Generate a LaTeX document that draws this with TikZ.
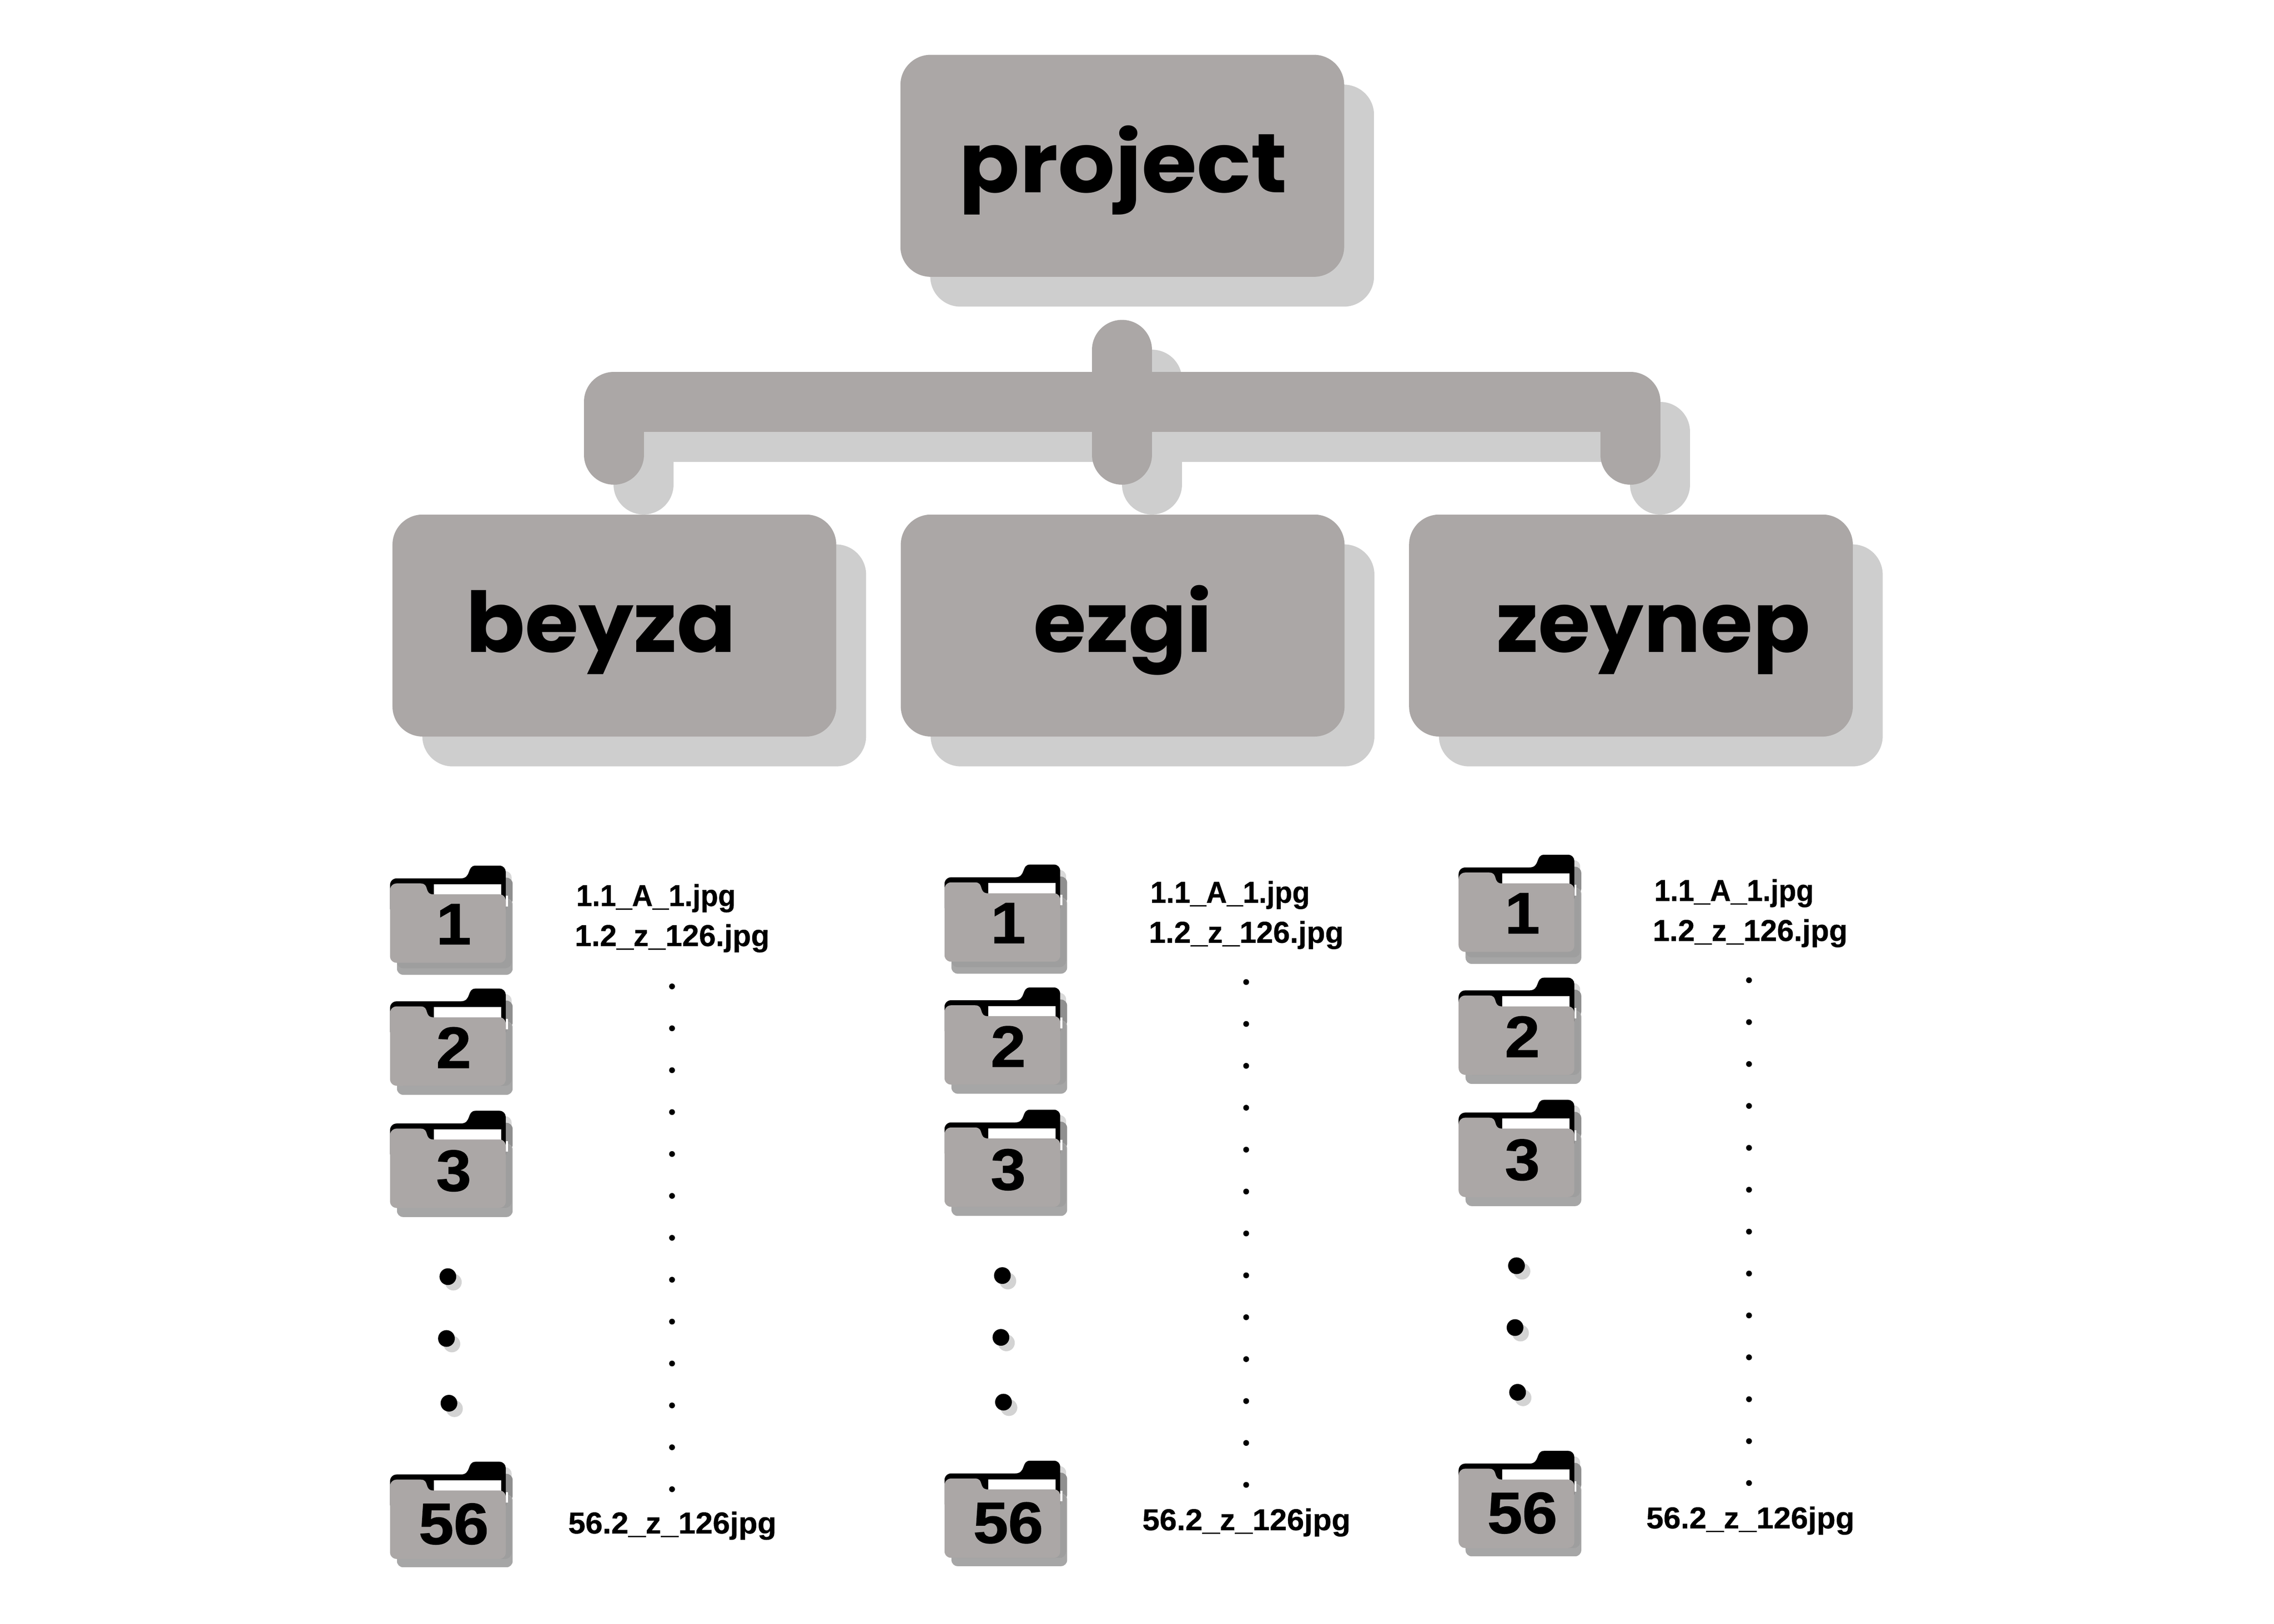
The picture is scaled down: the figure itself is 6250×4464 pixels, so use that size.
\documentclass[tikz,border=0pt]{standalone}
\usepackage{fontspec}
\setmainfont{Liberation Sans}[BoldFeatures = {FakeBold = 0.6}]
\newfontfamily\titlefont{Poppins}
\newfontfamily\digitfont{Liberation Sans}[BoldFeatures = {FakeStretch = 1.08, FakeBold = 1.2}]
\usetikzlibrary{shadows}
\definecolor{boxgrey}{HTML}{ABA7A6}
\definecolor{shadegrey}{HTML}{CECECE}
\tikzset{
	namebox/.style = {rectangle, fill = boxgrey, rounded corners = 0.83cm, minimum width = 12.19cm, minimum height = 6.10cm, inner sep = 0pt, anchor = north west,
		drop shadow = {shadow xshift = 0.82cm, shadow yshift = -0.82cm, fill = shadegrey, opacity = 1}},
	nametext/.style = {inner sep = 0pt, anchor = base, font = \titlefont\bfseries\fontsize{65.4pt}{70pt}\selectfont},
	filetext/.style = {inner sep = 0pt, anchor = base west, font = \bfseries\fontsize{23.6pt}{26pt}\selectfont},
	foldertext/.style = {inner sep = 0pt, anchor = base, font = \digitfont\bfseries\fontsize{45.5pt}{48pt}\selectfont},
	linkline/.style = {line width = 1.65cm, line cap = round, line join = round},
	bigdot/.style = {circle, fill = black, minimum size = 0.46cm, inner sep = 0pt,
		drop shadow = {shadow xshift = 0.15cm, shadow yshift = -0.15cm, fill = shadegrey!90, opacity = 1}},
	smalldot/.style = {circle, fill = black, minimum size = 0.16cm, inner sep = 0pt}
}
\newcommand{\drawfolder}[7]{
	\begin{scope}[shift = {(#1,#2)}]
		\fill [black!15, rounded corners = 0.17cm] (290,15) rectangle (334,110);
		\fill [black!44, rounded corners = 0.17cm] (290,33) rectangle (337,110);
		\fill [black!35, rounded corners = 0.17cm] (19,90) rectangle (337,#6);
		\fill [black!38, rounded corners = 0.17cm] (19,90) rectangle (334,#7);
		\fill [white] (318,83) rectangle (324,112);
		\fill [black] (0,120) -- (0,53) .. controls (0,43) and (8,35) .. (18,35) -- (194,35) .. controls (225,35) and (210,0) .. (235,0) -- (301,0) .. controls (311,0) and (318,8) .. (318,17) -- (318,120) -- cycle;
		\fill [white] (120,51) rectangle (305,85);
		\fill [boxgrey] (0,67) .. controls (0,57) and (8,49) .. (18,49) -- (84,49) .. controls (110,49) and (92,79) .. (120,79) -- (302,79) .. controls (311,79) and (318,87) .. (318,97) -- (318,249) .. controls (318,259) and (311,267) .. (300,267) -- (18,267) .. controls (8,267) and (0,259) .. (0,249) -- cycle;
		\node [foldertext] (#3) at (175,#5) {#4};
	\end{scope}
}

\begin{document}
\begin{tikzpicture}[x = 0.01cm, y = -0.01cm]
	\useasboundingbox (0,0) rectangle (6250,4464);

	\foreach \dx/\linkcolor in {82/shadegrey,0/boxgrey}{
		\coordinate (stubtop) at (3084+\dx,962+\dx);
		\coordinate (stubend) at (3084+\dx,1250+\dx);
		\coordinate (legleft) at (1687+\dx,1250+\dx);
		\coordinate (barleft) at (1687+\dx,1105+\dx);
		\coordinate (barright) at (4481+\dx,1105+\dx);
		\coordinate (legright) at (4481+\dx,1250+\dx);
		\draw [linkline, \linkcolor] (legleft) -- (barleft) -- (barright) -- (legright);
		\draw [linkline, \linkcolor] (stubtop) -- (stubend);
	}

	\node [namebox] (project) at (2474,150) {};
	\node [namebox] (beyza) at (1078,1414) {};
	\node [namebox] (ezgi) at (2475,1414) {};
	\node [namebox] (zeynep) at (3872,1414) {};
	\node [nametext] (projecttext) at (3087,529) {\scalebox{1.07}[1]{project}};
	\node [nametext] (beyzatext) at (1652,1793) {\scalebox{1.04}[1]{beyza}};
	\node [nametext] (ezgitext) at (3086,1793) {\scalebox{1.025}[1]{ezgi}};
	\node [nametext] (zeyneptext) at (4544,1793) {\scalebox{1.01}[1]{zeynep}};

	\foreach \colname/\dx/\dy/\dotx/\doty/\filex/\filey in {a/0/0/1847/2712/1583/0,b/1524/-3/3425/2700/3161/-9,c/2937/-30/4807/2695/4546/-14}{
		\drawfolder{1072+\dx}{2380+\dy}{\colname one}{1}{216}{300}{282}
		\drawfolder{1072+\dx}{2718+\dy}{\colname two}{2}{218}{292}{267}
		\drawfolder{1072+\dx}{3054+\dy}{\colname three}{3}{220}{292}{267}
		\drawfolder{1072+\dx}{4019+\dy}{\colname last}{56}{226}{290}{267}
		\node [bigdot] (big\colname1) at (1231+\dx,3510+\dy) {};
		\node [bigdot] (big\colname2) at (1227+\dx,3680+\dy) {};
		\node [bigdot] (big\colname3) at (1234+\dx,3858+\dy) {};
		\foreach \i in {0,...,12}{
			\node [smalldot] (dot\colname\i) at (\dotx,\doty+115.2*\i) {};
		}
		\node [filetext] (first\colname) at (\filex,2491+\filey) {\scalebox{0.95}[1]{1.1\_A\_1.jpg}};
		\node [filetext] (second\colname) at (\filex-4,2601+\filey) {1.2\_z\_126.jpg};
		\node [filetext] (last\colname) at (\filex-22,4216+\filey) {\scalebox{1.025}[1]{56.2\_z\_126jpg}};
	}
\end{tikzpicture}
\end{document}
